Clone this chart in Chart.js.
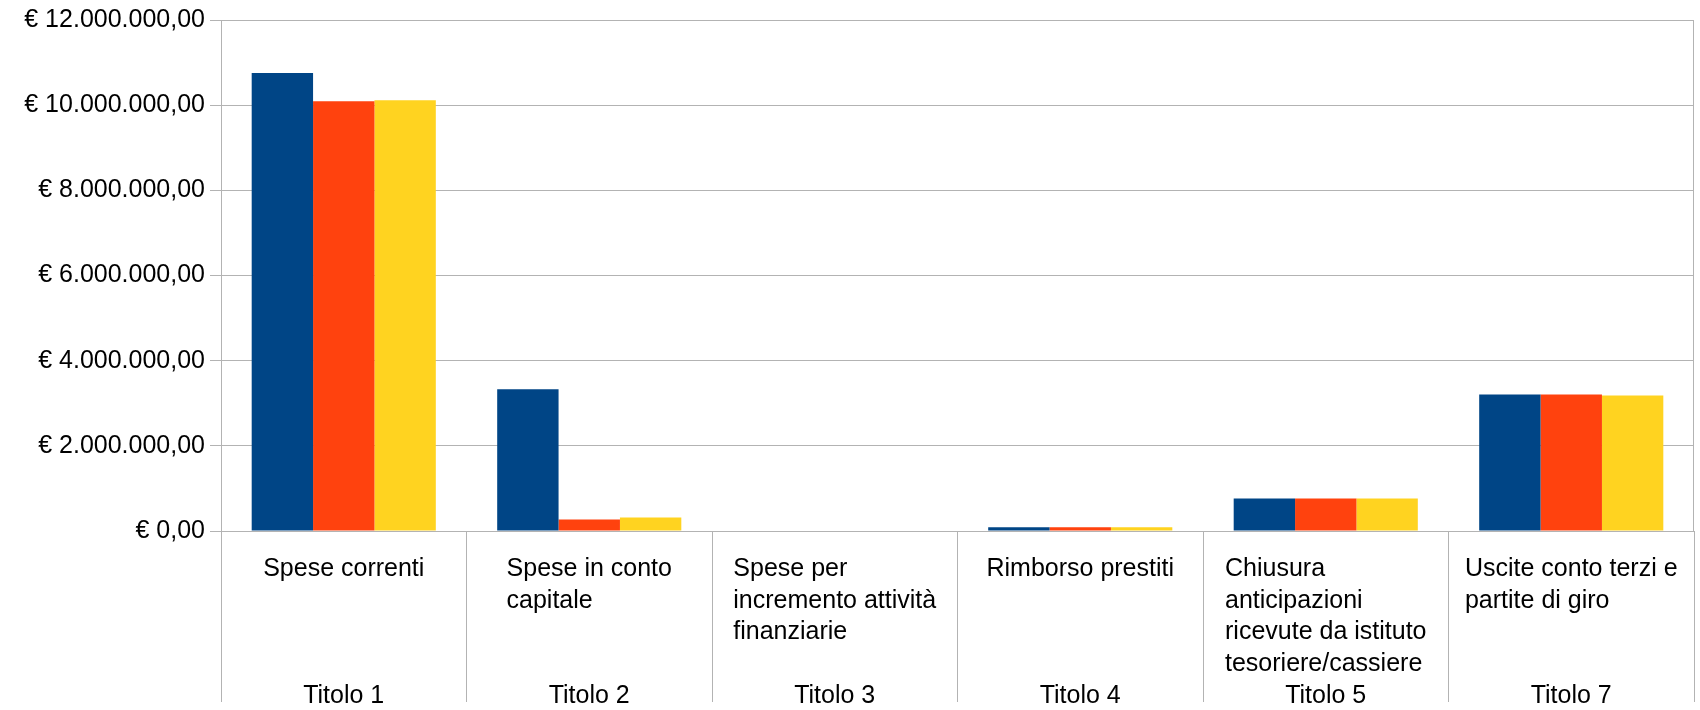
<!DOCTYPE html>
<html>
<head>
<meta charset="utf-8">
<script src="https://cdn.jsdelivr.net/npm/chart.js@4"></script>
<style>
  html, body { margin: 0; padding: 0; background: #fff; }
  #wrap { width: 1700px; height: 710px; }
</style>
</head>
<body>
<div id="wrap"><canvas id="spesaChart"></canvas></div>
<script>
// Category labels: two levels (description + titolo)
const titoli = ['Titolo 1', 'Titolo 2', 'Titolo 3', 'Titolo 4', 'Titolo 5', 'Titolo 7'];
const descrizioni = [
  ['Spese correnti'],
  ['Spese in conto', 'capitale'],
  ['Spese per', 'incremento attività', 'finanziarie'],
  ['Rimborso prestiti'],
  ['Chiusura', 'anticipazioni', 'ricevute da istituto', 'tesoriere/cassiere'],
  ['Uscite conto terzi e', 'partite di giro']
];

// Three series
const serie1 = [10755000, 3330000, 0, 86000, 766000, 3203000];
const serie2 = [10094000, 272000, 0, 86000, 766000, 3203000];
const serie3 = [10118000, 319000, 0, 86000, 766000, 3180000];

// y axis ticks
const yMin = 0;
const yMax = 12000000;
const yStep = 2000000;

const FONT = '"Liberation Sans", Arial, sans-serif';
const GRID = '#b3b3b3';

function euro(v) {
  const parts = Math.abs(v).toFixed(2).split('.');
  const intPart = parts[0].replace(/\B(?=(\d{3})+(?!\d))/g, '.');
  return '€ ' + intPart + ',' + parts[1];
}

// draws the two-level category labels below the axis
const labelPlugin = {
  id: 'twoLevelLabels',
  afterDraw(chart) {
    const ctx = chart.ctx;
    const xs = chart.scales.x;
    const bottom = chart.chartArea.bottom;
    const lineH = 31.7;
    ctx.save();
    ctx.font = '25px ' + FONT;
    ctx.fillStyle = '#000';
    ctx.textBaseline = 'alphabetic';
    titoli.forEach((t, i) => {
      const cx = xs.getPixelForValue(i);
      const lines = descrizioni[i];
      const w = Math.max(...lines.map(l => ctx.measureText(l).width));
      ctx.textAlign = 'left';
      lines.forEach((l, k) => {
        ctx.fillText(l, cx - w / 2, bottom + 45 + k * lineH);
      });
      ctx.textAlign = 'center';
      ctx.fillText(t, cx, bottom + 45 + 4 * lineH);
    });
    // right border of the plot area
    ctx.strokeStyle = GRID;
    ctx.lineWidth = 1;
    ctx.beginPath();
    ctx.moveTo(chart.chartArea.right - 0.5, chart.chartArea.top);
    ctx.lineTo(chart.chartArea.right - 0.5, bottom);
    ctx.stroke();
    ctx.restore();
  }
};

const ctx = document.getElementById('spesaChart').getContext('2d');
const chart = new Chart(ctx, {
  type: 'bar',
  data: {
    labels: titoli,
    datasets: [
      { label: 'Serie 1', data: serie1, backgroundColor: '#004586' },
      { label: 'Serie 2', data: serie2, backgroundColor: '#ff420e' },
      { label: 'Serie 3', data: serie3, backgroundColor: '#ffd320' }
    ]
  },
  options: {
    responsive: true,
    maintainAspectRatio: false,
    animation: false,
    datasets: {
      bar: { categoryPercentage: 0.75, barPercentage: 1.0, borderWidth: 0 }
    },
    layout: { padding: { top: 19, right: 6, bottom: 8, left: 0 } },
    plugins: {
      legend: { display: false },
      tooltip: { enabled: false }
    },
    scales: {
      x: {
        grid: {
          offset: true,
          drawOnChartArea: false,
          drawTicks: true,
          tickLength: 171,
          color: GRID
        },
        border: { color: GRID },
        ticks: { display: false }
      },
      y: {
        min: yMin,
        max: yMax,
        afterFit(scale) { scale.width = 221; },
        ticks: {
          stepSize: yStep,
          padding: 5,
          color: '#000',
          font: { family: FONT, size: 25 },
          callback: (v) => euro(v)
        },
        grid: { color: GRID, tickLength: 11 },
        border: { color: GRID }
      }
    }
  },
  plugins: [labelPlugin]
});
</script>
</body>
</html>
